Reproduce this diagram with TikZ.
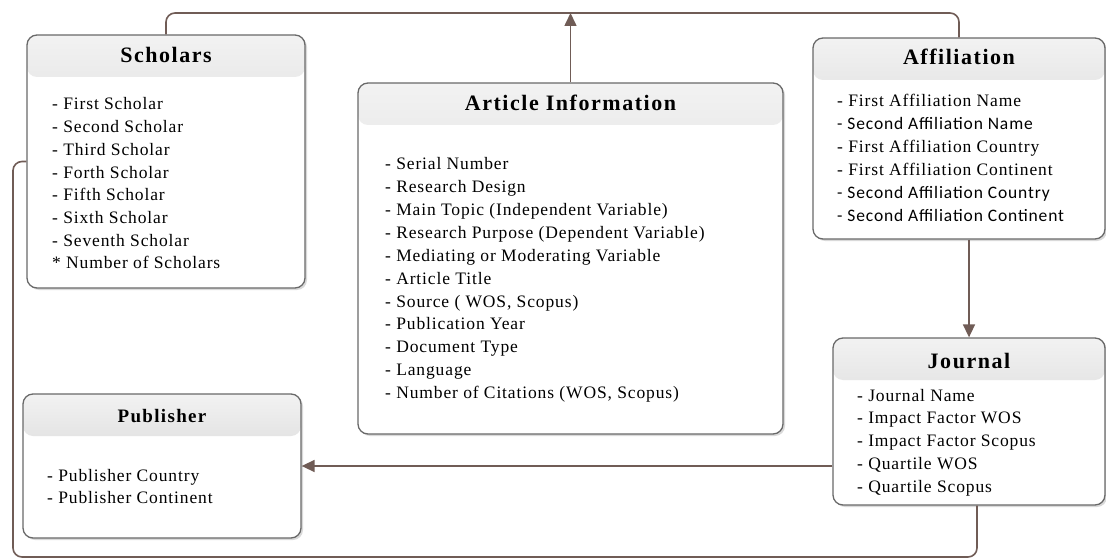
\documentclass[tikz,border=0pt]{standalone}
\usepackage{fontspec}
\setmainfont{Liberation Serif}[LetterSpace=5]
\newfontfamily\titlefont{Liberation Serif}[LetterSpace=7]
\newfontfamily\sansitem{Carlito}[LetterSpace=5]
\usetikzlibrary{arrows.meta,shadows}
\definecolor{conn}{RGB}{112,92,86}
\definecolor{edge}{RGB}{105,105,105}
\definecolor{hdtop}{RGB}{242,242,242}
\definecolor{hdbot}{RGB}{196,196,196}
\tikzset{
  box/.style={draw=edge, line width=1.3pt, fill=white, rounded corners=10pt,
    inner sep=0pt,
    drop shadow={shadow xshift=2pt, shadow yshift=-2pt, opacity=0.3, fill=gray},
    path picture={\shade[top color=hdtop, bottom color=hdbot]
      (path picture bounding box.north west) rectangle
      ([yshift=-42pt]path picture bounding box.north east);}},
  title/.style={anchor=base, inner sep=0pt, font=\titlefont\bfseries\fontsize{22}{25}\selectfont},
  item/.style={anchor=base west, inner sep=0pt, font=\fontsize{17.5}{20}\selectfont},
  sansline/.style={item, font=\sansitem\fontsize{17.5}{20}\selectfont},
  conn/.style={draw=conn, line width=1.6pt, rounded corners=9pt},
  tip/.style={-{Triangle[length=13pt,width=12pt]}}
}
\begin{document}
\begin{tikzpicture}[x=1pt,y=-1pt]
\useasboundingbox (0,0) rectangle (1106,559);

% class boxes
\node[box, minimum width=278pt, minimum height=253pt] (sch) at (166,161.5) {};
\node[box, minimum width=425pt, minimum height=351pt] (art) at (570.5,258.5) {};
\node[box, minimum width=292pt, minimum height=201pt] (aff) at (959,138.5) {};
\node[box, minimum width=272pt, minimum height=167pt] (jou) at (969,421.5) {};
\node[box, minimum width=278pt, minimum height=144pt] (pub) at (162,466) {};

% titles
\node[title] (schT) at (166,63) {Scholars};
\node[title] (artT) at (570.5,111) {Article Information};
\node[title] (affT) at (959,65) {Affiliation};
\node[title] (jouT) at (969,368) {Journal};
\node[title, font=\titlefont\bfseries\fontsize{19}{22}\selectfont] (pubT) at (162,422) {Publisher};

% attribute lists
\foreach \t [count=\i from 0] in {- First Scholar, - Second Scholar, - Third Scholar,
  - Forth Scholar, - Fifth Scholar, - Sixth Scholar, - Seventh Scholar,
  * Number of Scholars}
  \node[item] (sch-\i) at (52,110+22.7*\i) {\t};

\foreach \t [count=\i from 0] in {- Serial Number, - Research Design,
  - Main Topic (Independent Variable), - Research Purpose (Dependent Variable),
  - Mediating or Moderating Variable, - Article Title, - Source ( WOS{,} Scopus),
  - Publication Year, - Document Type, - Language,
  - Number of Citations (WOS{,} Scopus)}
  \node[item] (art-\i) at (385,170+22.85*\i) {\t};

\node[item] (aff-0) at (837,107) {- First Affiliation Name};
\node[sansline] (aff-1) at (837,129.8) {- Second Affiliation Name};
\node[item] (aff-2) at (837,152.6) {- First Affiliation Country};
\node[item] (aff-3) at (837,175.4) {- First Affiliation Continent};
\node[sansline] (aff-4) at (837,198.2) {- Second Affiliation Country};
\node[sansline] (aff-5) at (837,221) {- Second Affiliation Continent};

\foreach \t [count=\i from 0] in {- Journal Name, - Impact Factor WOS,
  - Impact Factor Scopus, - Quartile WOS, - Quartile Scopus}
  \node[item] (jou-\i) at (857,401+22.75*\i) {\t};

\node[item] (pub-0) at (47,481) {- Publisher Country};
\node[item] (pub-1) at (47,503.5) {- Publisher Continent};

% connectors
\coordinate (top) at (0,13);
\coordinate (corner) at (13,557);
\draw[conn] (sch.north) |- (top -| aff.north) -- (aff.north);
\draw[conn, tip] (art.north) -- (art.north |- top);
\draw[conn, tip] (aff.south -| jou.north) -- (jou.north);
\draw[conn, tip] (jou.west |- pub.east) -- (pub.east);
\draw[conn] ([xshift=8pt]jou.south) |- (corner) |- (sch.west);
\end{tikzpicture}
\end{document}
